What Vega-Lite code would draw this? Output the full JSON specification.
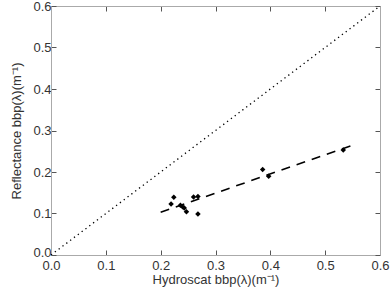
{
  "$schema": "https://vega.github.io/schema/vega-lite/v6.json",
  "width": 329,
  "height": 249,
  "autosize": {"type": "none"},
  "padding": {"left": 51, "top": 6, "right": 11, "bottom": 37},
  "background": "white",
  "config": {
    "view": {"stroke": null},
    "axis": {
      "labelFont": "Liberation Sans",
      "titleFont": "Liberation Sans",
      "labelFontSize": 13,
      "titleFontSize": 13,
      "titleFontWeight": "normal",
      "labelColor": "#333",
      "titleColor": "#333",
      "domainColor": "#aaa",
      "tickColor": "#555",
      "grid": false,
      "labelFlush": false,
      "tickSize": -5
    }
  },
  "datasets": {
    "pts": [
      {"x": 0.224, "y": 0.139},
      {"x": 0.219, "y": 0.123},
      {"x": 0.236, "y": 0.120},
      {"x": 0.240, "y": 0.116},
      {"x": 0.243, "y": 0.113},
      {"x": 0.247, "y": 0.104},
      {"x": 0.260, "y": 0.140},
      {"x": 0.268, "y": 0.141},
      {"x": 0.268, "y": 0.099},
      {"x": 0.386, "y": 0.206},
      {"x": 0.397, "y": 0.190},
      {"x": 0.533, "y": 0.253}
    ],
    "one2one": [{"x": 0, "y": 0}, {"x": 0.6, "y": 0.6}],
    "fit": [{"x": 0.2, "y": 0.103}, {"x": 0.555, "y": 0.267}]
  },
  "layer": [
    {
      "data": {"name": "one2one"},
      "mark": {"type": "line", "color": "black", "strokeWidth": 1.3, "strokeDash": [1.3, 3.5]},
      "encoding": {
        "x": {"field": "x", "type": "quantitative", "scale": {"domain": [0, 0.6], "nice": false},
              "axis": {"orient": "bottom", "values": [0, 0.1, 0.2, 0.3, 0.4, 0.5, 0.6], "format": ".1f", "labelFlush": false, "labelPadding": 9, "title": "Hydroscat bbp(λ)(m⁻¹)", "titlePadding": 1}},
        "y": {"field": "y", "type": "quantitative", "scale": {"domain": [0, 0.6], "nice": false},
              "axis": {"orient": "left", "values": [0, 0.1, 0.2, 0.3, 0.4, 0.5, 0.6], "format": ".1f", "labelFlush": false, "labelPadding": 5,
                       "labelOffset": {"condition": {"test": "datum.value === 0", "value": -3}, "value": 0},
                       "title": "Reflectance bbp(λ)(m⁻¹)", "titlePadding": 9}}
      }
    },
    {
      "data": {"name": "fit"},
      "mark": {"type": "line", "color": "black", "strokeWidth": 1.6, "strokeDash": [9, 7]},
      "encoding": {
        "x": {"field": "x", "type": "quantitative", "axis": null},
        "y": {"field": "y", "type": "quantitative", "axis": null}
      }
    },
    {
      "data": {"name": "pts"},
      "mark": {"type": "point", "shape": "diamond", "filled": true, "color": "black", "size": 30, "opacity": 1},
      "encoding": {
        "x": {"field": "x", "type": "quantitative", "axis": null},
        "y": {"field": "y", "type": "quantitative", "axis": null}
      }
    },
    {
      "data": {"name": "one2one"},
      "mark": {"type": "point", "opacity": 0},
      "encoding": {
        "x": {"field": "x", "type": "quantitative",
              "axis": {"orient": "top", "values": [0, 0.1, 0.2, 0.3, 0.4, 0.5, 0.6], "labels": false, "title": null}},
        "y": {"field": "y", "type": "quantitative",
              "axis": {"orient": "right", "values": [0, 0.1, 0.2, 0.3, 0.4, 0.5, 0.6], "labels": false, "title": null}}
      }
    }
  ],
  "resolve": {"axis": {"x": "independent", "y": "independent"}}
}
